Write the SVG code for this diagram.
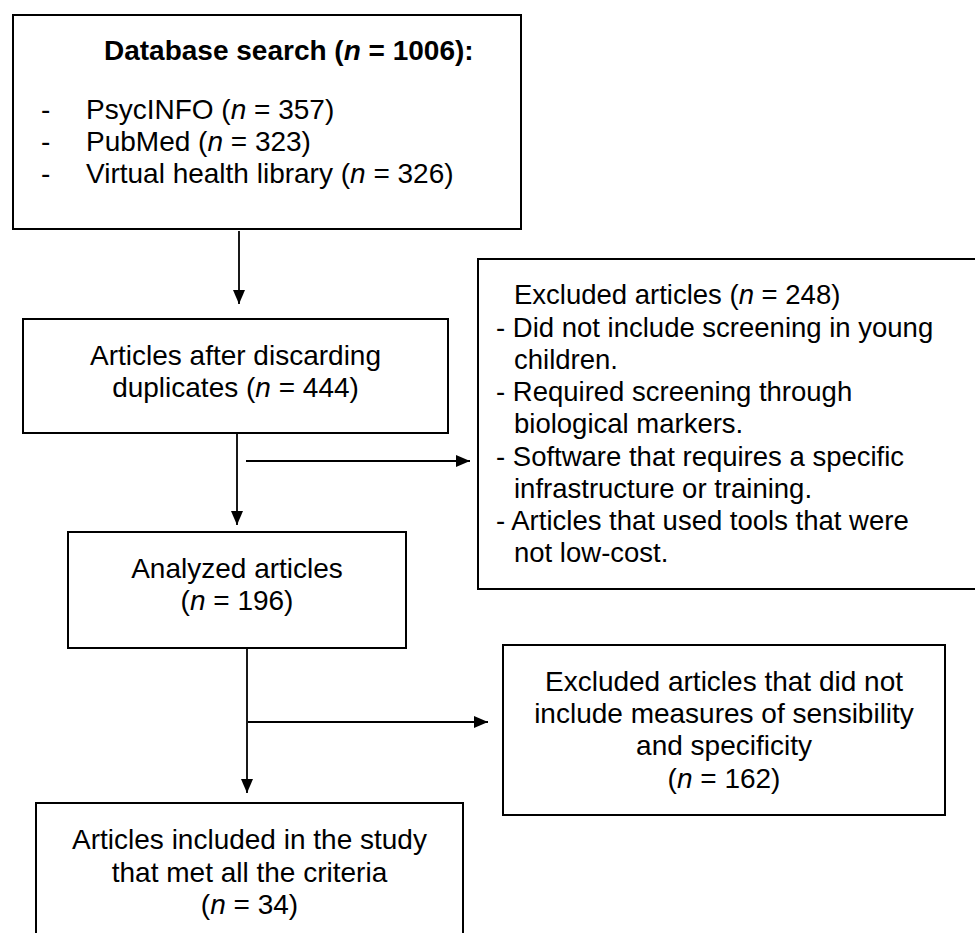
<svg xmlns="http://www.w3.org/2000/svg" width="975" height="933" viewBox="0 0 975 933">
<style>
.box{fill:#fff;stroke:#000;stroke-width:2}
.t{font-family:"Liberation Sans",Arial,sans-serif;font-size:28px;fill:#000}
.s{font-size:27.5px}
.c{text-anchor:middle}
.b{font-weight:bold}
.i{font-style:italic}
.ln{stroke:#000;stroke-width:1.8;fill:none}
</style>
<defs>
<marker id="ah" markerUnits="userSpaceOnUse" markerWidth="14" markerHeight="12" refX="14" refY="6" orient="auto">
<path d="M0,0 L14,6 L0,12 z" fill="#000"/>
</marker>
</defs>
<rect width="975" height="933" fill="#fff"/>
<g id="connectors">
<line class="ln" x1="239" y1="231" x2="239" y2="304" marker-end="url(#ah)"/>
<line class="ln" x1="237" y1="433" x2="237" y2="525" marker-end="url(#ah)"/>
<line class="ln" x1="246" y1="461" x2="470" y2="461" marker-end="url(#ah)"/>
<line class="ln" x1="247" y1="648" x2="247" y2="793" marker-end="url(#ah)"/>
<line class="ln" x1="248" y1="722" x2="488" y2="722" marker-end="url(#ah)"/>
</g>
<g id="database-search">
<rect class="box" x="13" y="15" width="508" height="214"/>
<text class="t b" x="104" y="60">Database search (<tspan class="i">n</tspan> = 1006):</text>
<text class="t" x="41" y="119">-</text>
<text class="t" x="86" y="119">PsycINFO (<tspan class="i">n</tspan> = 357)</text>
<text class="t" x="41" y="151">-</text>
<text class="t" x="86" y="151">PubMed (<tspan class="i">n</tspan> = 323)</text>
<text class="t" x="41" y="183">-</text>
<text class="t" x="86" y="183">Virtual health library (<tspan class="i">n</tspan> = 326)</text>
</g>
<g id="after-duplicates">
<rect class="box" x="23" y="319" width="425" height="114"/>
<text class="t c" x="235.5" y="365">Articles after discarding</text>
<text class="t c" x="235.5" y="397">duplicates (<tspan class="i">n</tspan> = 444)</text>
</g>
<g id="excluded-248">
<rect class="box" x="478" y="259" width="510" height="330"/>
<text class="t s" x="514" y="304">Excluded articles (<tspan class="i">n</tspan> = 248)</text>
<text class="t s" x="496" y="337">- Did not include screening in young</text>
<text class="t s" x="514" y="369">children.</text>
<text class="t s" x="496" y="401">- Required screening through</text>
<text class="t s" x="514" y="433">biological markers.</text>
<text class="t s" x="496" y="466">- Software that requires a specific</text>
<text class="t s" x="514" y="498">infrastructure or training.</text>
<text class="t s" x="496" y="530">- Articles that used tools that were</text>
<text class="t s" x="514" y="562">not low-cost.</text>
</g>
<g id="analyzed">
<rect class="box" x="68" y="532" width="338" height="116"/>
<text class="t c" x="237" y="578">Analyzed articles</text>
<text class="t c" x="237" y="610">(<tspan class="i">n</tspan> = 196)</text>
</g>
<g id="excluded-162">
<rect class="box" x="503" y="645" width="442" height="170"/>
<text class="t c" x="724" y="691">Excluded articles that did not</text>
<text class="t c" x="724" y="723">include measures of sensibility</text>
<text class="t c" x="724" y="755">and specificity</text>
<text class="t c" x="724" y="788">(<tspan class="i">n</tspan> = 162)</text>
</g>
<g id="included">
<rect class="box" x="36" y="803" width="427" height="140"/>
<text class="t c" x="249.5" y="849">Articles included in the study</text>
<text class="t c" x="249.5" y="882">that met all the criteria</text>
<text class="t c" x="249.5" y="914">(<tspan class="i">n</tspan> = 34)</text>
</g>
</svg>
